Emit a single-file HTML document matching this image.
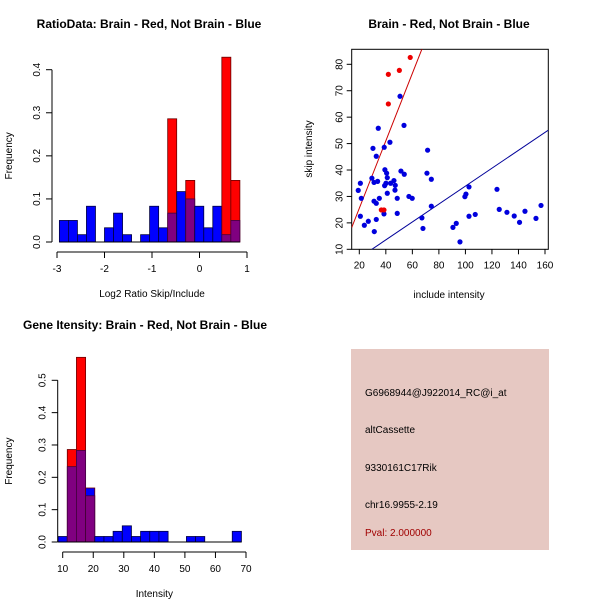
<!DOCTYPE html>
<html><head><meta charset="utf-8"><style>
html,body{margin:0;padding:0;background:#fff;}
svg{display:block;font-family:"Liberation Sans",Arial,sans-serif;}
</style></head><body>
<svg id="chart" width="600" height="600" viewBox="0 0 600 600">
<rect x="0" y="0" width="600" height="600" fill="#fff"/>
<g id="p1"></g>
<g id="p2"></g>
<g id="p3"></g>
<g>
<rect x="351" y="349" width="198" height="201" fill="#e6c8c2"/>
<text x="365" y="396" font-size="10" fill="#000">G6968944@J922014_RC@i_at</text>
<text x="365" y="433" font-size="10" fill="#000">altCassette</text>
<text x="365" y="471" font-size="10" fill="#000">9330161C17Rik</text>
<text x="365" y="508" font-size="10" fill="#000">chr16.9955-2.19</text>
<text x="365" y="536" font-size="10" fill="#a00000">Pval: 2.000000</text>
</g>
</svg>
<script>
// ---- Plot 1 data ----
const ratioBinStart = -2.95;
const ratioBinWidth = 0.19;
const ratioBlue = [0.05,0.05,0.017,0.083,0,0.033,0.067,0.017,0,0.017,0.083,0.033,0.067,0.117,0.1,0.083,0.033,0.083,0.017,0.05];
const ratioRed  = [0,0,0,0,0,0,0,0,0,0,0,0,0.286,0,0.143,0,0,0,0.429,0.143];
const ratioXTicks = [-3,-2,-1,0,1];
const ratioYTicks = [0.0,0.1,0.2,0.3,0.4];
const ratioYTickLabels = ["0.0","0.1","0.2","0.3","0.4"];
// ---- Plot 3 data ----
const intBinStart = 8.5;
const intBinWidth = 3;
const intBlue = [0.017,0.233,0.283,0.167,0.017,0.017,0.033,0.05,0.017,0.033,0.033,0.033,0,0,0.017,0.017,0,0,0,0.033];
const intRed  = [0,0.286,0.571,0.143,0,0,0,0,0,0,0,0,0,0,0,0,0,0,0,0];
const intXTicks = [10,20,30,40,50,60,70];
const intYTicks = [0,0.1,0.2,0.3,0.4,0.5];
const intYTickLabels = ["0.0","0.1","0.2","0.3","0.4","0.5"];
// ---- Plot 2 data ----
const redX = [41.9,50.2,58.4,41.9,36.6,38.6];
const redY = [76.2,77.7,82.6,65.0,24.9,24.9];
const blueX = [19.2,20.8,21.5,20.8,23.8,26.8,31.3,30.3,32.8,34.3,29.5,31.1,33.8,31.1,32.8,35.1,32.8,38.8,43.1,39.3,40.6,41.1,40.1,39.1,43.6,46.1,47.1,46.9,41.1,48.6,48.6,38.6,50.7,53.7,51.4,53.9,57.4,59.9,67.2,68.0,71.5,71.0,74.3,74.3,90.6,93.1,95.9,99.6,100.4,102.7,102.7,107.4,123.8,125.5,131.3,136.8,140.8,144.9,153.2,157.0];
const blueY = [32.3,35.0,29.3,22.5,19.1,20.6,16.7,48.2,45.2,55.8,36.9,35.3,35.7,28.2,27.4,29.3,21.3,48.6,50.5,40.1,38.8,37.1,35.0,34.1,35.0,36.0,34.2,32.4,31.2,29.3,23.6,23.4,67.9,56.9,39.6,38.4,30.0,29.3,21.9,17.9,47.5,38.8,36.5,26.3,18.3,19.8,12.8,29.9,30.9,33.6,22.5,23.2,32.7,25.1,24.0,22.6,20.2,24.4,21.7,26.6];
const fitSlopes = [1.276, 0.339];
const scatterXTicks = [20,40,60,80,100,120,140,160];
const scatterYTicks = [10,20,30,40,50,60,70,80];

const NS="http://www.w3.org/2000/svg";
function mk(parent,tag,attrs,text){
  const e=document.createElementNS(NS,tag);
  for(const k in attrs) e.setAttribute(k,attrs[k]);
  if(text!==undefined) e.textContent=text;
  parent.appendChild(e); return e;
}
function hist(g,opt){
  const {x0,x1,v0,v1,y0,y1,w0,w1,start,width,blue,red,xt,yt,ytl,title,xlab,titleY,titleX}=opt;
  const sx=v=>x0+(v-v0)*(x1-x0)/(v1-v0);
  const sy=v=>y0-(v-w0)*(y0-y1)/(w1-w0);
  let t=mk(g,'text',{x:titleX,y:titleY,'font-size':12,'font-weight':'bold','text-anchor':'middle'},title);
  
  
  for(let i=0;i<blue.length;i++){
    const a=sx(start+i*width), b=sx(start+(i+1)*width);
    const bv=blue[i], rv=red[i];
    const mx=Math.max(bv,rv), mn=Math.min(bv,rv);
    if(mx>0){
      const r=mk(g,'rect',{x:a,y:sy(mx),width:b-a,height:sy(0)-sy(mx),fill:rv>=bv?'#ff0000':'#0000ff',stroke:rv>0?'#6a0000':'#000040','stroke-width':0.8});
      
      
    }
    if(mn>0){
      const r=mk(g,'rect',{x:a,y:sy(mn),width:b-a,height:sy(0)-sy(mn),fill:'#800080',stroke:'#400040','stroke-width':0.8});
      
      
    }
  }
  const base=mk(g,'line',{x1:sx(start),x2:sx(start+blue.length*width),y1:sy(0),y2:sy(0),stroke:'#000'});
  
  
  // x axis
  const ax=y0+10;
  const xa=mk(g,'line',{x1:sx(xt[0]),x2:sx(xt[xt.length-1]),y1:ax,y2:ax,stroke:'#000'});
  
  
  xt.forEach(v=>{
    mk(g,'line',{x1:sx(v),x2:sx(v),y1:ax,y2:ax+6,stroke:'#000'});
    const l=mk(g,'text',{x:sx(v),y:ax+20,'font-size':10,'text-anchor':'middle'},String(v));
    
    
  });
  const xl=mk(g,'text',{x:(sx(xt[0])+sx(xt[xt.length-1]))/2,y:ax+45,'font-size':10,'text-anchor':'middle'},xlab);
  
  
  // y axis
  const yx=x0-5;
  const ya=mk(g,'line',{x1:yx,x2:yx,y1:sy(yt[0]),y2:sy(yt[yt.length-1]),stroke:'#000'});
  
  
  yt.forEach((v,i)=>{
    mk(g,'line',{x1:yx-6,x2:yx,y1:sy(v),y2:sy(v),stroke:'#000'});
    const l=mk(g,'text',{x:yx-12,y:sy(v),'font-size':10,'text-anchor':'middle',transform:`rotate(-90 ${yx-12} ${sy(v)})`},ytl[i]);
    
    
  });
  const yl=mk(g,'text',{x:12,y:(y0+y1)/2,'font-size':10,'text-anchor':'middle',transform:`rotate(-90 12 ${(y0+y1)/2})`},'Frequency');
  
  
}
hist(document.getElementById('p1'),{x0:57,x1:247,v0:-3,v1:1,y0:242,y1:69.7,w0:0,w1:0.4,start:ratioBinStart,width:ratioBinWidth,blue:ratioBlue,red:ratioRed,xt:ratioXTicks,yt:ratioYTicks,ytl:ratioYTickLabels,title:'RatioData: Brain - Red, Not Brain - Blue',xlab:'Log2 Ratio Skip/Include',titleY:28,titleX:149});
hist(document.getElementById('p3'),{x0:62.7,x1:246,v0:10,v1:70,y0:542,y1:380.3,w0:0,w1:0.5,start:intBinStart,width:intBinWidth,blue:intBlue,red:intRed,xt:intXTicks,yt:intYTicks,ytl:intYTickLabels,title:'Gene Itensity: Brain - Red, Not Brain - Blue',xlab:'Intensity',titleY:329,titleX:145});

// scatter
(function(){
  const g=document.getElementById('p2');
  const L=351.7,R=548.3,T=49.3,B=249.3;
  const sx=v=>359.3+(v-20)*(545-359.3)/140;
  const sy=v=>249.3-(v-10)*(249.3-64.3)/70;
  const ix=x=>20+(x-359.3)*140/(545-359.3);
  const t=mk(g,'text',{x:449,y:28,'font-size':12,'font-weight':'bold','text-anchor':'middle'},'Brain - Red, Not Brain - Blue');
  
  
  const cp=mk(g,'clipPath',{id:'sc'}); mk(cp,'rect',{x:L,y:T,width:R-L,height:B-T});
  const box=mk(g,'rect',{x:L,y:T,width:R-L,height:B-T,fill:'none',stroke:'#000'});
  
  
  const lc=['#cc0000','#000099'];
  fitSlopes.forEach((s,i)=>{
    const xa=ix(L),xb=ix(R);
    const ln=mk(g,'line',{x1:sx(xa),y1:sy(s*xa),x2:sx(xb),y2:sy(s*xb),stroke:lc[i],'clip-path':'url(#sc)'});
    
    
  });
  blueX.forEach((x,i)=>{
    const c=mk(g,'circle',{cx:sx(x),cy:sy(blueY[i]),r:2.6,fill:'#0000dd'});
    
    
  });
  redX.forEach((x,i)=>{
    const c=mk(g,'circle',{cx:sx(x),cy:sy(redY[i]),r:2.6,fill:'#ee0000'});
    
    
  });
  scatterXTicks.forEach(v=>{
    mk(g,'line',{x1:sx(v),x2:sx(v),y1:B,y2:B+5,stroke:'#000'});
    const l=mk(g,'text',{x:sx(v),y:B+19,'font-size':10,'text-anchor':'middle'},String(v));
    
    
  });
  scatterYTicks.forEach(v=>{
    mk(g,'line',{x1:L-5,x2:L,y1:sy(v),y2:sy(v),stroke:'#000'});
    const l=mk(g,'text',{x:L-9,y:sy(v),'font-size':10,'text-anchor':'middle',transform:`rotate(-90 ${L-9} ${sy(v)})`},String(v));
    
    
  });
  const xl=mk(g,'text',{x:449,y:298,'font-size':10,'text-anchor':'middle'},'include intensity');
  
  
  const yl=mk(g,'text',{x:312,y:149,'font-size':10,'text-anchor':'middle',transform:'rotate(-90 312 149)'},'skip intensity');
  
  
})();
</script>
</body></html>
